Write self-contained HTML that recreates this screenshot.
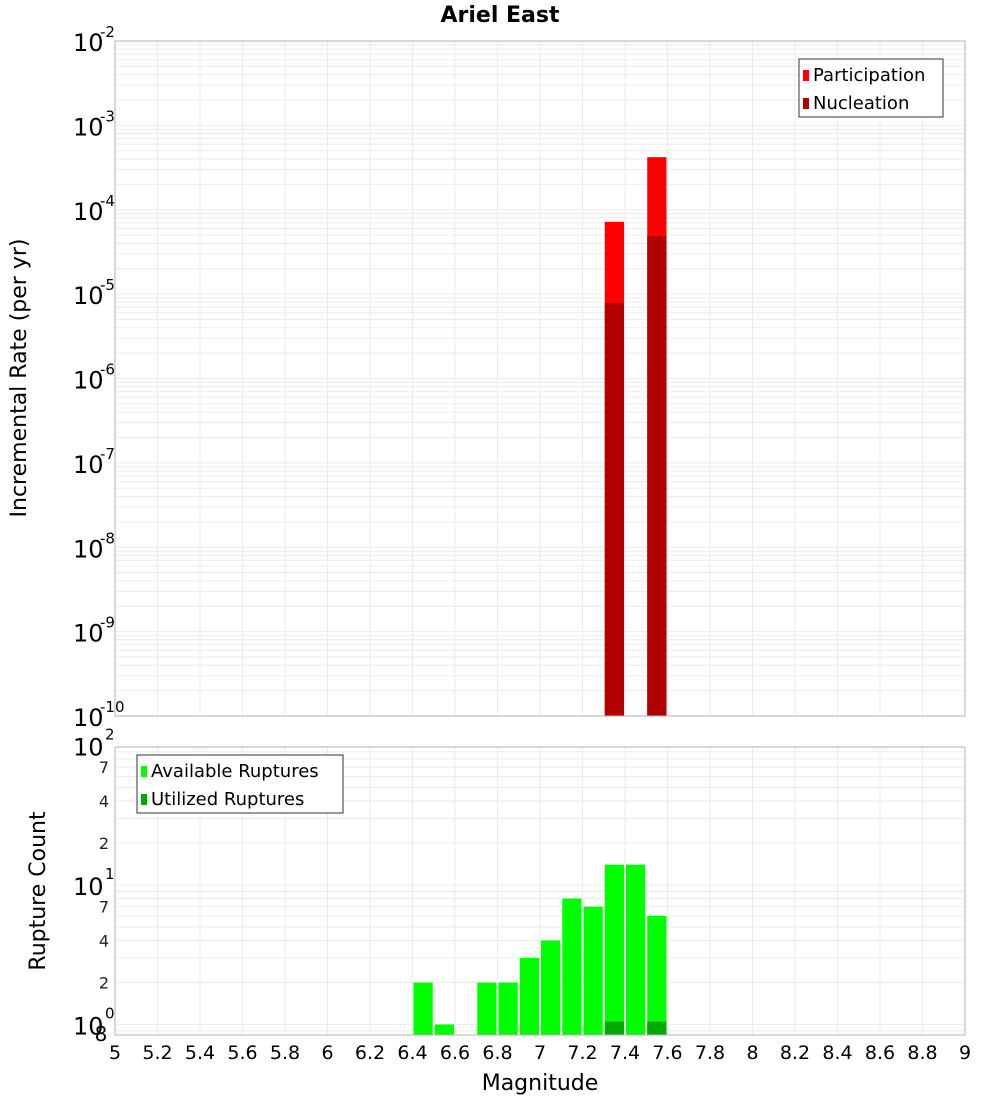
<!DOCTYPE html>
<html><head><meta charset="utf-8"><style>
body{margin:0;background:#fff;}
svg text{font-family:"DejaVu Sans","Liberation Sans",sans-serif;}
</style></head><body>
<svg id="c" width="1000" height="1100" xmlns="http://www.w3.org/2000/svg"></svg>
<script>
const bins=[6.45,6.55,6.75,6.85,6.95,7.05,7.15,7.25,7.35,7.45,7.55];
const available=[2,1,2,2,3,4,8,7,14,14,6];
const utilBins=[7.35,7.55];
const utilized=[1,1];
const rateBins=[7.35,7.55];
const participation=[7.2e-5,4.2e-4];
const nucleation=[7.85e-6,4.9e-5];
const xTicks=[5,5.2,5.4,5.6,5.8,6,6.2,6.4,6.6,6.8,7,7.2,7.4,7.6,7.8,8,8.2,8.4,8.6,8.8,9];

const svg=document.getElementById('c');
const NS='http://www.w3.org/2000/svg';
function mk(t,a,p){const e=document.createElementNS(NS,t);for(const k in a)e.setAttribute(k,a[k]);(p||svg).appendChild(e);return e;}
const X0=115,X1=965;
const x=v=>X0+(v-5)/4*(X1-X0);
const T0=41,T1=716;
const yT=v=>T0+(-2-Math.log10(v))/8*(T1-T0);
const B0=747,B1=1035,dec=139.5,b10=1024.5;
const yB=v=>b10-Math.log10(v)*dec;

// grids
const gT=mk('g',{});
for(let e=-10;e<-2;e++)for(let m=1;m<10;m++){const yy=yT(m*Math.pow(10,e));if(yy>=T0&&yy<=T1)mk('line',{x1:X0,x2:X1,y1:yy,y2:yy,stroke:'#ebebeb','stroke-width':1},gT);}
const gB=mk('g',{});
for(let e=-1;e<2;e++)for(let m=1;m<10;m++){const yy=yB(m*Math.pow(10,e));if(yy>=B0&&yy<=B1)mk('line',{x1:X0,x2:X1,y1:yy,y2:yy,stroke:'#ebebeb','stroke-width':1},gB);}
xTicks.forEach(t=>{mk('line',{x1:x(t),x2:x(t),y1:T0,y2:T1,stroke:'#ebebeb'},gT);mk('line',{x1:x(t),x2:x(t),y1:B0,y2:B1,stroke:'#ebebeb'},gB);});

const bw=(x(5.1)-x(5))-2;
// top bars
rateBins.forEach((b,i)=>{
 const r=mk('rect',{x:x(b-0.05)+1,y:yT(participation[i]),width:bw,height:T1-yT(participation[i]),fill:'#ff0000'});
 
 const n=mk('rect',{x:x(b-0.05)+1,y:yT(nucleation[i]),width:bw,height:T1-yT(nucleation[i]),fill:'#b30000'});
 
});
// bottom bars
bins.forEach((b,i)=>{
 const r=mk('rect',{x:x(b-0.05)+1,y:yB(available[i]),width:bw,height:B1-yB(available[i]),fill:'#00ff00'});
 
});
utilBins.forEach((b,i)=>{
 const r=mk('rect',{x:x(b-0.05)+1,y:yB(utilized[i])-3,width:bw,height:B1-yB(utilized[i])+3,fill:'#00aa00'});
 
});
// frames
mk('rect',{x:X0,y:T0,width:X1-X0,height:T1-T0,fill:'none',stroke:'#b0b0b0'});
mk('rect',{x:X0,y:B0,width:X1-X0,height:B1-B0,fill:'none',stroke:'#b0b0b0'});

// top y labels
for(let e=-2;e>=-10;e--){
 const yy=yT(Math.pow(10,e));
 const t=mk('text',{x:73,y:yy+10,'font-size':24,fill:'#000'});t.textContent='10';
 
 const s=mk('text',{x:100,y:yy-4,'font-size':15});s.textContent=String(e);
}
// bottom y labels
[[100,'2'],[10,'1'],[1,'0']].forEach(([v,p])=>{const yy=yB(v);
 const t=mk('text',{x:73,y:yy+10,'font-size':24});t.textContent='10';
 
 const s=mk('text',{x:105,y:yy-6,'font-size':15});s.textContent=p;});
[70,40,20,7,4,2].forEach(v=>{const yy=yB(v);const t=mk('text',{x:104,y:yy+6,'font-size':16,fill:'#222','text-anchor':'middle'});t.textContent=String(v).charAt(0);});
const e8=mk('text',{x:101,y:1041,'font-size':20,'text-anchor':'middle'});e8.textContent='8';
// x ticks
xTicks.forEach(t=>{const e=mk('text',{x:x(t),y:1059,'font-size':19,'text-anchor':'middle'});e.textContent=String(t);
 });
// titles
const tt=mk('text',{x:500,y:22,'font-size':22,'font-weight':'bold','text-anchor':'middle'});tt.textContent='Ariel East';

const xt=mk('text',{x:540,y:1090,'font-size':22,'text-anchor':'middle'});xt.textContent='Magnitude';

const y1=mk('text',{x:0,y:0,'font-size':22,'text-anchor':'middle',transform:'translate(26,378) rotate(-90)'});y1.textContent='Incremental Rate (per yr)';

const y2=mk('text',{x:0,y:0,'font-size':22,'text-anchor':'middle',transform:'translate(45,891) rotate(-90)'});y2.textContent='Rupture Count';


// legends
function legend(x0,y0,w,items,name){
 const g=mk('g',{});
 mk('rect',{x:x0,y:y0,width:w,height:58,fill:'#fff',stroke:'#333'},g);
 items.forEach((it,i)=>{mk('rect',{x:x0+4,y:y0+11+i*28,width:6,height:11,fill:it[1]},g);
  const t=mk('text',{x:x0+14,y:y0+22+i*28,'font-size':18},g);t.textContent=it[0];});
}
legend(799,59,144,[['Participation','#ff0000'],['Nucleation','#b30000']],'top-legend');
legend(137,755,206,[['Available Ruptures','#00ff00'],['Utilized Ruptures','#00aa00']],'bottom-legend');
</script>
</body></html>
